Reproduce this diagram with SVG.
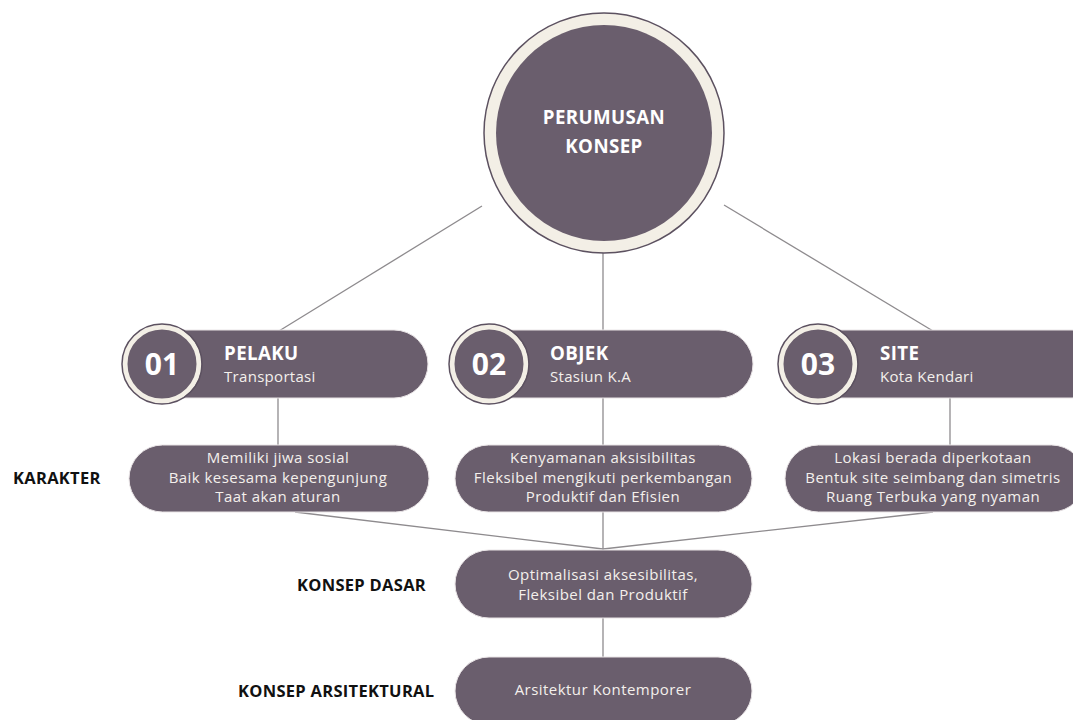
<svg xmlns="http://www.w3.org/2000/svg" width="1073" height="720" viewBox="0 0 1073 720">
<style>
.pill{fill:#6a5e6d;stroke:#e9e4e6;stroke-width:1}
.ln{stroke:#8e8b8e;stroke-width:1.3;fill:none}
.t{font-family:"Open Sans","Liberation Sans",sans-serif;fill:#f4f0ec;font-size:15px;letter-spacing:0.45px;text-anchor:middle}
.h{font-family:"Open Sans","Liberation Sans",sans-serif;fill:#ffffff;font-size:18.7px;font-weight:700;letter-spacing:0.4px}
.s{font-family:"Open Sans","Liberation Sans",sans-serif;fill:#f4f0ec;font-size:15px;letter-spacing:0.3px}
.num{font-family:"Open Sans","Liberation Sans",sans-serif;fill:#ffffff;font-size:30px;font-weight:700;text-anchor:middle}
.lab{font-family:"Open Sans","Liberation Sans",sans-serif;fill:#111111;font-size:16.5px;font-weight:700;letter-spacing:0.3px}
.ring{fill:#6a5e6d;stroke:#f3efe6;stroke-width:5}
.out{fill:none;stroke:#5c5160;stroke-width:1.5}
</style>
<rect width="1073" height="720" fill="#ffffff"/>
<g id="connectors">
<line class="ln" x1="482" y1="206" x2="279" y2="331"/>
<line class="ln" x1="603" y1="240" x2="603" y2="331"/>
<line class="ln" x1="724" y1="205" x2="933" y2="331"/>
<line class="ln" x1="278" y1="398" x2="278" y2="445"/>
<line class="ln" x1="603" y1="398" x2="603" y2="445"/>
<line class="ln" x1="950" y1="398" x2="950" y2="445"/>
<line class="ln" x1="295" y1="512" x2="603" y2="549"/>
<line class="ln" x1="933" y1="512" x2="603" y2="549"/>
<line class="ln" x1="603" y1="512" x2="603" y2="550"/>
<line class="ln" x1="603" y1="618" x2="603" y2="657"/>
</g>
<g id="perumusan">
<circle cx="604" cy="133" r="120" fill="#f3efe6" stroke="#5c5160" stroke-width="1.5"/>
<circle cx="604" cy="133" r="108" fill="#6a5e6d"/>
<text class="h" x="604" y="124" text-anchor="middle" font-size="19px" letter-spacing="0.5">PERUMUSAN</text>
<text class="h" x="604" y="153" text-anchor="middle" font-size="19px" letter-spacing="0.5">KONSEP</text>
</g>
<g id="pelaku">
<rect class="pill" x="150" y="330" width="278" height="68" rx="34"/>
<circle class="ring" cx="162" cy="364" r="37"/>
<circle class="out" cx="162" cy="364" r="40"/>
<text class="num" x="162" y="375">01</text>
<text class="h" x="224" y="360">PELAKU</text>
<text class="s" x="224" y="382">Transportasi</text>
</g>
<g id="objek">
<rect class="pill" x="477" y="330" width="276" height="68" rx="34"/>
<circle class="ring" cx="489" cy="364" r="37"/>
<circle class="out" cx="489" cy="364" r="40"/>
<text class="num" x="489" y="375">02</text>
<text class="h" x="550" y="360">OBJEK</text>
<text class="s" x="550" y="382">Stasiun K.A</text>
</g>
<g id="site">
<rect class="pill" x="806" y="330" width="300" height="68" rx="34"/>
<circle class="ring" cx="818" cy="364" r="37"/>
<circle class="out" cx="818" cy="364" r="40"/>
<text class="num" x="818" y="375">03</text>
<text class="h" x="880" y="360">SITE</text>
<text class="s" x="880" y="382">Kota Kendari</text>
</g>
<g id="karakter-label"><text class="lab" x="13" y="484">KARAKTER</text></g>
<g id="karakter1">
<rect class="pill" x="129" y="445" width="300" height="67" rx="33.5"/>
<text class="t" x="278" y="463">Memiliki jiwa sosial</text>
<text class="t" x="278" y="483">Baik kesesama kepengunjung</text>
<text class="t" x="278" y="502">Taat akan aturan</text>
</g>
<g id="karakter2">
<rect class="pill" x="455" y="445" width="297" height="67" rx="33.5"/>
<text class="t" x="603" y="463">Kenyamanan aksisibilitas</text>
<text class="t" x="603" y="483">Fleksibel mengikuti perkembangan</text>
<text class="t" x="603" y="502">Produktif dan Efisien</text>
</g>
<g id="karakter3">
<rect class="pill" x="785" y="445" width="300" height="67" rx="33.5"/>
<text class="t" x="933" y="463">Lokasi berada diperkotaan</text>
<text class="t" x="933" y="483">Bentuk site seimbang dan simetris</text>
<text class="t" x="933" y="502">Ruang Terbuka yang nyaman</text>
</g>
<g id="konsep-dasar">
<text class="lab" x="297" y="591">KONSEP DASAR</text>
<rect class="pill" x="455" y="550" width="297" height="68" rx="34"/>
<text class="t" x="603" y="580">Optimalisasi aksesibilitas,</text>
<text class="t" x="603" y="600">Fleksibel dan Produktif</text>
</g>
<g id="konsep-arsitektural">
<text class="lab" x="238" y="697">KONSEP ARSITEKTURAL</text>
<rect class="pill" x="455" y="657" width="297" height="68" rx="34"/>
<text class="t" x="603" y="695">Arsitektur Kontemporer</text>
</g>
</svg>
